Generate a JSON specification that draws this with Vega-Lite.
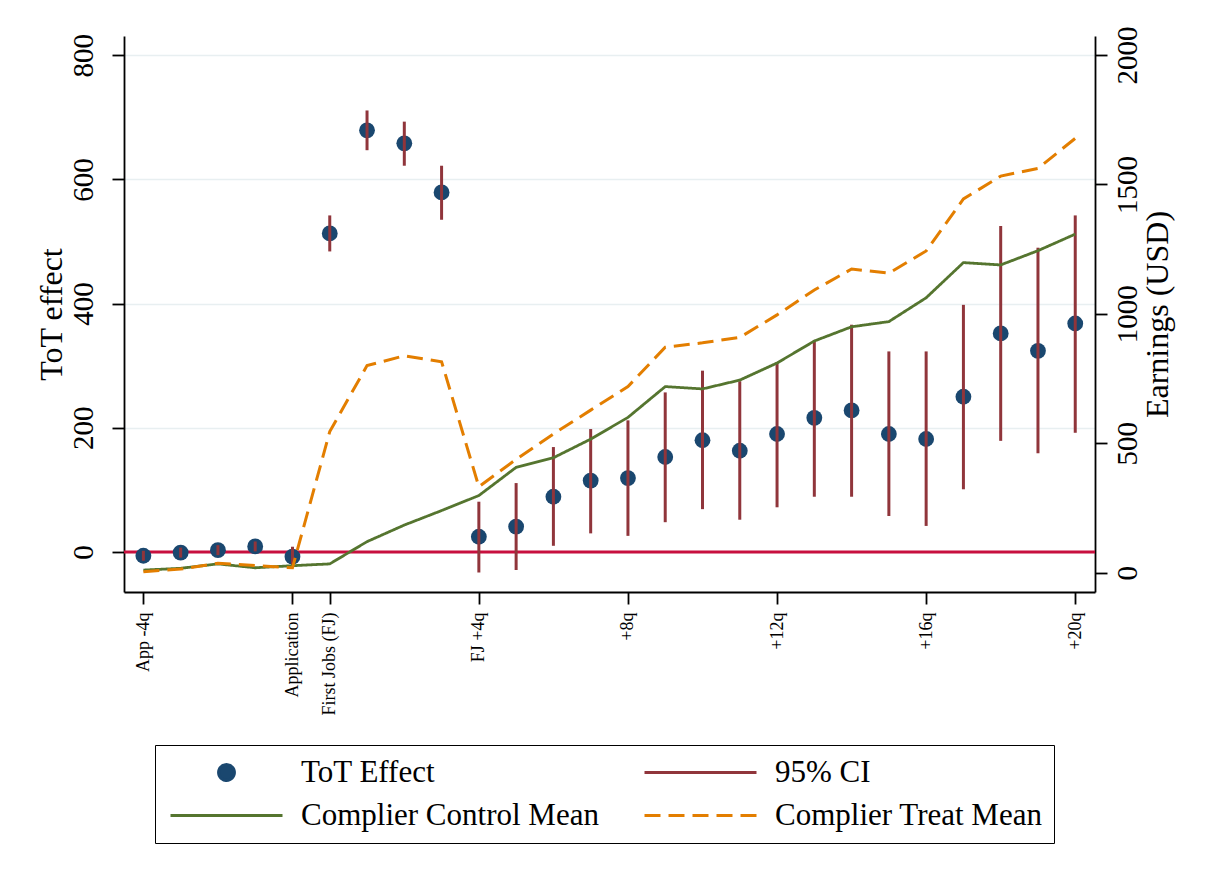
{
  "$schema": "https://vega.github.io/schema/vega-lite/v6.json",
  "width": 971,
  "height": 556,
  "autosize": {"type": "none"},
  "padding": {"left": 124, "top": 36, "right": 116, "bottom": 290},
  "background": "white",
  "config": {
    "view": {"stroke": null},
    "font": "Liberation Serif",
    "axis": {
      "labelFont": "Liberation Serif",
      "titleFont": "Liberation Serif",
      "labelColor": "black",
      "titleColor": "black",
      "domainColor": "black",
      "tickColor": "black",
      "domainWidth": 1.8,
      "tickWidth": 1.8,
      "tickSize": 12,
      "titleFontWeight": "normal"
    }
  },
  "datasets": {
    "z": [{"zero": 0}],
    "d": [
      {"q": -4, "eff": -6, "lo": -14, "hi": 2, "ctrl": 10, "treat": 4},
      {"q": -3, "eff": -1, "lo": -9, "hi": 7, "ctrl": 17, "treat": 14},
      {"q": -2, "eff": 3, "lo": -5, "hi": 11, "ctrl": 34, "treat": 36},
      {"q": -1, "eff": 9, "lo": 1, "hi": 17, "ctrl": 19, "treat": 28},
      {"q": 0, "eff": -7.5, "lo": -21, "hi": 8.5, "ctrl": 27, "treat": 19},
      {"q": 1, "eff": 513, "lo": 484, "hi": 542, "ctrl": 34, "treat": 545},
      {"q": 2, "eff": 679, "lo": 647, "hi": 711, "ctrl": 120, "treat": 800},
      {"q": 3, "eff": 658, "lo": 622, "hi": 693, "ctrl": 184, "treat": 838},
      {"q": 4, "eff": 579, "lo": 535, "hi": 622, "ctrl": 240, "treat": 815},
      {"q": 5, "eff": 24.6, "lo": -33, "hi": 81, "ctrl": 298, "treat": 332},
      {"q": 6, "eff": 41, "lo": -29, "hi": 111, "ctrl": 407, "treat": 438},
      {"q": 7, "eff": 89, "lo": 10, "hi": 169, "ctrl": 444, "treat": 536},
      {"q": 8, "eff": 115, "lo": 30, "hi": 198, "ctrl": 516, "treat": 628},
      {"q": 9, "eff": 119, "lo": 26, "hi": 212, "ctrl": 600, "treat": 719},
      {"q": 10, "eff": 153, "lo": 48, "hi": 257, "ctrl": 719, "treat": 871},
      {"q": 11, "eff": 180, "lo": 69, "hi": 292, "ctrl": 710, "treat": 888},
      {"q": 12, "eff": 163, "lo": 52, "hi": 275, "ctrl": 744, "treat": 909},
      {"q": 13, "eff": 190, "lo": 72, "hi": 306, "ctrl": 810, "treat": 996},
      {"q": 14, "eff": 216, "lo": 89, "hi": 341, "ctrl": 895, "treat": 1092},
      {"q": 15, "eff": 228, "lo": 89, "hi": 366, "ctrl": 950, "treat": 1173},
      {"q": 16, "eff": 190, "lo": 58, "hi": 323, "ctrl": 970, "treat": 1157},
      {"q": 17, "eff": 182, "lo": 42, "hi": 323, "ctrl": 1062, "treat": 1243},
      {"q": 18, "eff": 250, "lo": 101, "hi": 398, "ctrl": 1198, "treat": 1444},
      {"q": 19, "eff": 352, "lo": 179, "hi": 525, "ctrl": 1189, "treat": 1532},
      {"q": 20, "eff": 324, "lo": 159, "hi": 490, "ctrl": 1244, "treat": 1562},
      {"q": 21, "eff": 368, "lo": 192, "hi": 542, "ctrl": 1308, "treat": 1678}
    ]
  },
  "layer": [
    {
      "layer": [
        {
          "data": {"name": "z"},
          "mark": {"type": "rule", "color": "#c8103e", "strokeWidth": 3},
          "encoding": {
            "y": {
              "field": "zero",
              "type": "quantitative",
              "scale": {"domain": [-64.4, 830.9], "nice": false, "zero": false},
              "axis": {
                "orient": "left",
                "title": "ToT effect",
                "titleFontSize": 32,
                "titlePadding": 1,
                "values": [0, 200, 400, 600, 800],
                "format": "d",
                "labelAngle": -90,
                "labelAlign": "center",
                "labelBaseline": "bottom",
                "labelFontSize": 29,
                "labelPadding": 14,
                "grid": true,
                "gridColor": "#e8eff1",
                "gridWidth": 1.5
              }
            }
          }
        },
        {
          "data": {"name": "d"},
          "mark": {"type": "point", "filled": true, "opacity": 1},
          "encoding": {
            "x": {
              "field": "q",
              "type": "quantitative",
              "scale": {"domain": [-4.52, 21.53], "nice": false, "zero": false},
              "axis": {
                "title": null,
                "values": [-4, 0, 1, 5, 9, 13, 17, 21],
                "labelExpr": "datum.value == -4 ? 'App -4q' : datum.value == 0 ? 'Application' : datum.value == 1 ? 'First Jobs (FJ)' : datum.value == 5 ? 'FJ +4q' : '+' + (datum.value - 1) + 'q'",
                "labelAngle": -90,
                "labelFontSize": 18,
                "labelPadding": 8,
                "labelOverlap": false,
                "labelFlush": false,
                "labelBound": false,
                "grid": false
              }
            },
            "y": {"field": "eff", "type": "quantitative", "title": "ToT effect"},
            "shape": {
              "datum": "ToT Effect",
              "type": "nominal",
              "scale": {
                "domain": ["ToT Effect", "95% CI", "Complier Control Mean", "Complier Treat Mean"],
                "range": ["circle", "stroke", "stroke", "stroke"]
              }
            },
            "size": {
              "datum": "ToT Effect",
              "type": "nominal",
              "scale": {
                "type": "ordinal",
                "domain": ["ToT Effect", "95% CI", "Complier Control Mean", "Complier Treat Mean"],
                "range": [250, 12544, 12544, 12544]
              }
            },
            "color": {
              "datum": "ToT Effect",
              "type": "nominal",
              "scale": {
                "domain": ["ToT Effect", "95% CI", "Complier Control Mean", "Complier Treat Mean"],
                "range": ["#1a476f", "#90353b", "#55752f", "#e37e00"]
              },
              "legend": {
                "title": null,
                "orient": "none",
                "legendX": 31,
                "legendY": 709,
                "direction": "horizontal",
                "columns": 2,
                "columnPadding": 41,
                "rowPadding": 10,
                "padding": 11,
                "clipHeight": 33,
                "labelFont": "Liberation Serif",
                "labelFontSize": 31,
                "labelColor": "black",
                "labelLimit": 0,
                "labelOffset": 17,
                "symbolOffset": 3,
                "symbolStrokeWidth": 3,
                "symbolOpacity": 1,
                "strokeColor": "black",
                "fillColor": "white"
              }
            }
          }
        },
        {
          "data": {"name": "d"},
          "mark": {"type": "rule", "strokeWidth": 3},
          "encoding": {
            "x": {"field": "q", "type": "quantitative", "title": null},
            "y": {"field": "lo", "type": "quantitative", "title": "ToT effect"},
            "y2": {"field": "hi"},
            "color": {
              "datum": "95% CI",
              "type": "nominal",
              "scale": {
                "domain": ["ToT Effect", "95% CI", "Complier Control Mean", "Complier Treat Mean"],
                "range": ["#1a476f", "#90353b", "#55752f", "#e37e00"]
              }
            }
          }
        }
      ]
    },
    {
      "layer": [
        {
          "data": {"name": "d"},
          "mark": {"type": "line", "strokeWidth": 2.8},
          "encoding": {
            "x": {"field": "q", "type": "quantitative", "title": null},
            "y": {
              "field": "ctrl",
              "type": "quantitative",
              "scale": {"domain": [-74.6, 2073.4], "nice": false, "zero": false},
              "axis": {
                "orient": "right",
                "title": "Earnings (USD)",
                "titleFontSize": 32,
                "titleAngle": -90,
                "titleBaseline": "top",
                "titlePadding": 0,
                "values": [0, 500, 1000, 1500, 2000],
                "format": "d",
                "labelAngle": -90,
                "labelAlign": "center",
                "labelBaseline": "top",
                "labelFontSize": 29,
                "labelPadding": 6,
                "grid": false
              }
            },
            "color": {
              "datum": "Complier Control Mean",
              "type": "nominal",
              "scale": {
                "domain": ["ToT Effect", "95% CI", "Complier Control Mean", "Complier Treat Mean"],
                "range": ["#1a476f", "#90353b", "#55752f", "#e37e00"]
              }
            },
            "strokeDash": {
              "datum": "Complier Control Mean",
              "type": "nominal",
              "scale": {
                "domain": ["ToT Effect", "95% CI", "Complier Control Mean", "Complier Treat Mean"],
                "range": [[1, 0], [1, 0], [1, 0], [16, 8]]
              }
            }
          }
        },
        {
          "data": {"name": "d"},
          "mark": {"type": "line", "strokeWidth": 3},
          "encoding": {
            "x": {"field": "q", "type": "quantitative", "title": null},
            "y": {"field": "treat", "type": "quantitative", "title": "Earnings (USD)"},
            "color": {
              "datum": "Complier Treat Mean",
              "type": "nominal",
              "scale": {
                "domain": ["ToT Effect", "95% CI", "Complier Control Mean", "Complier Treat Mean"],
                "range": ["#1a476f", "#90353b", "#55752f", "#e37e00"]
              }
            },
            "strokeDash": {
              "datum": "Complier Treat Mean",
              "type": "nominal",
              "scale": {
                "domain": ["ToT Effect", "95% CI", "Complier Control Mean", "Complier Treat Mean"],
                "range": [[1, 0], [1, 0], [1, 0], [16, 8]]
              }
            }
          }
        }
      ]
    }
  ],
  "resolve": {"scale": {"y": "independent"}, "axis": {"y": "independent"}}
}
